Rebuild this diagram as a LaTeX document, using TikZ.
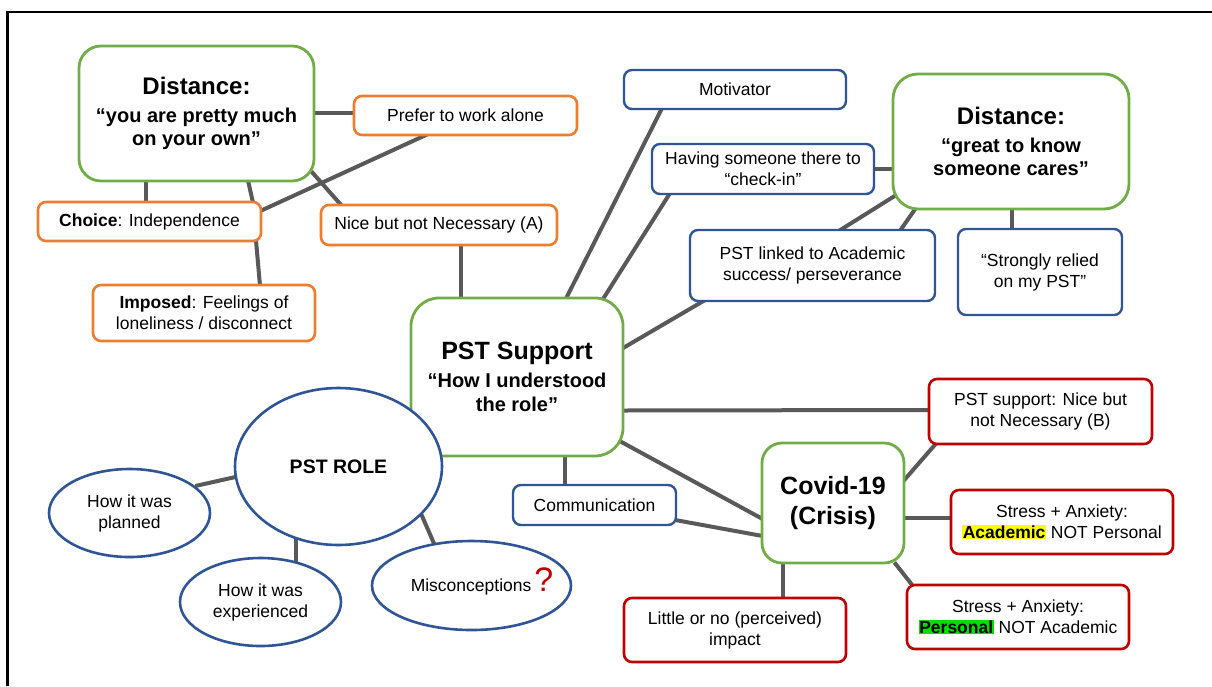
\documentclass[tikz,border=0pt]{standalone}
\usepackage{fontspec}
\setmainfont{Liberation Sans}
\usetikzlibrary{shapes.geometric,calc,backgrounds}

\definecolor{grn}{HTML}{70AD47}
\definecolor{org}{HTML}{ED7D31}
\definecolor{blu}{HTML}{2F5597}
\definecolor{rd}{HTML}{C00000}
\definecolor{lnk}{HTML}{595959}
\definecolor{hly}{HTML}{FFFF00}
\definecolor{hlg}{HTML}{00E000}

\newcommand\markY[1]{{\setlength{\fboxsep}{0.6pt}\colorbox{hly}{#1}}}
\newcommand\markG[1]{{\setlength{\fboxsep}{0.6pt}\colorbox{hlg}{#1}}}

\tikzset{
  box/.style={draw, fill=white, rounded corners=8pt, line width=2.6pt,
    inner sep=0pt, align=center, font=\fontsize{17.5}{21}\selectfont},
  obox/.style={box, draw=org},
  bbox/.style={box, draw=blu, line width=2.4pt},
  rbox/.style={box, draw=rd},
  gbox/.style={box, draw=grn, line width=2.8pt, rounded corners=22pt,
    font=\fontsize{20}{23}\selectfont\bfseries},
  ell/.style={ellipse, draw=blu, line width=2.6pt, fill=white, inner sep=0pt,
    align=center, font=\fontsize{17.5}{21}\selectfont},
  link/.style={draw=lnk, line width=4pt},
  plain/.style={inner sep=0pt, align=center, font=\fontsize{17.5}{21}\selectfont},
}

\begin{document}
\begin{tikzpicture}[x=1pt,y=-1pt]
\useasboundingbox (0,0) rectangle (1212,686);

% frame: top and left rules
\draw[line width=2.2pt] (7.5,686) -- (7.5,12) -- (1212,12);

% ---- top-left cluster
\node[gbox, minimum width=235, minimum height=135] (distA) at (196.5,113.5)
  {{\fontsize{24}{28}\selectfont Distance:}\\[5pt]“you are pretty much\\on your own”};
\node[obox, minimum width=223, minimum height=39] (prefer) at (465.5,115.5) {Prefer to work alone};
\node[obox, minimum width=223, minimum height=39] (choice) at (149.5,221.5) {\textbf{Choice}: Independence};
\node[obox, minimum width=236, minimum height=40] (nice) at (439,225) {Nice but not Necessary (A)};
\node[obox, minimum width=222, minimum height=56] (imposed) at (204,313) {\textbf{Imposed}: Feelings of\\loneliness / disconnect};

% ---- centre
\node[gbox, minimum width=212, minimum height=158, rounded corners=28pt,
  font=\fontsize{20}{24}\selectfont\bfseries] (pst) at (517,377)
  {{\fontsize{25}{28}\selectfont PST Support}\\[4pt]“How I understood\\the role”};

% ---- top-right cluster
\node[bbox, minimum width=222, minimum height=39] (motiv) at (735,89.5) {Motivator};
\node[bbox, minimum width=222, minimum height=50] (having) at (763,169) {Having someone there to\\“check-in”};
\node[gbox, minimum width=236, minimum height=135, rounded corners=25pt] (distB) at (1011,141.5)
  {{\fontsize{24}{28}\selectfont Distance:}\\[5pt]“great to know\\someone cares”};
\node[bbox, minimum width=245, minimum height=71] (linked) at (812.5,265.5) {PST linked to Academic\\success/ perseverance};
\node[bbox, minimum width=164, minimum height=86] (strongly) at (1040,272) {“Strongly relied\\on my PST”};

% ---- role ellipses
\node[ell, minimum width=207, minimum height=157, font=\fontsize{19.5}{23}\selectfont\bfseries] (role) at (338.5,466.5) {PST ROLE};
\node[ell, minimum width=161, minimum height=88] (planned) at (129.5,513) {How it was\\planned};
\node[ell, minimum width=161, minimum height=88] (experienced) at (260.5,602) {How it was\\experienced};
\node[ell, minimum width=199, minimum height=89] (miscon) at (471.5,585.5) {};
\node[plain, anchor=base] (misconText) at (482,591)
  {Misconceptions\,{\color{rd}\fontsize{34}{34}\selectfont ?}};

% ---- bottom-right cluster
\node[bbox, minimum width=163, minimum height=40] (comm) at (594.5,505) {Communication};
\node[rbox, minimum width=223, minimum height=65] (supB) at (1040.5,411.5) {PST support: Nice but\\not Necessary (B)};
\node[gbox, minimum width=142, minimum height=120, rounded corners=20pt,
  font=\fontsize{25}{30}\selectfont\bfseries] (covid) at (833,503) {Covid-19\\(Crisis)};
\node[rbox, minimum width=222, minimum height=64] (stressA) at (1062,522)
  {Stress + Anxiety:\\\markY{\textbf{Academic}} NOT Personal};
\node[rbox, minimum width=222, minimum height=64] (stressP) at (1018,617)
  {Stress + Anxiety:\\\markG{\textbf{Personal}} NOT Academic};
\node[rbox, minimum width=222, minimum height=64] (little) at (735,630) {Little or no (perceived)\\impact};

% ---- connectors, behind the boxes
\begin{scope}[on background layer]
  \draw[link] ($(distA.east)+(-2,-0.5)$) -- ($(prefer.west)+(2,-2.5)$);
  \draw[link] ($(choice.east)+(-2,-10.5)$) -- ($(prefer.south)+(-38,-2)$);
  \draw[link] ($(distA.south)+(-50.5,-2)$) -- ($(choice.north)+(-3.5,2)$);
  \draw[link] ($(distA.south)+(51.5,-2)$) -- ($(choice.north)+(103.5,2)$);
  \draw[link] ($(choice.south)+(106.5,-2)$) -- ($(imposed.north)+(56,2)$);
  \draw[link] ($(distA.south east)+(-4,-11)$) -- ($(nice.north west)+(22,2)$);
  \draw[link] ($(nice.south)+(22,-2)$) -- ($(pst.north)+(-56,2)$);
  \draw[link] ($(motiv.south)+(-73,-2)$) -- ($(pst.north)+(49,2)$);
  \draw[link] ($(having.south)+(-93,-2)$) -- ($(pst.north)+(85,4)$);
  \draw[link] ($(linked.south west)+(16,-2)$) -- ($(pst.east)+(-3,-28)$);
  \draw[link] ($(having.east)+(-2,0)$) -- ($(distB.west)+(2,27.5)$);
  \draw[link] ($(distB.south west)+(4,-15)$) -- ($(linked.north)+(26.5,2)$);
  \draw[link] ($(distB.south west)+(24,-2)$) -- ($(linked.north)+(87.5,2)$);
  \draw[link] ($(distB.south)+(1,-2)$) -- ($(strongly.north)+(-28,2)$);
  \draw[link] ($(pst.east)+(-2,33.5)$) -- ($(supB.west)+(2,-1.5)$);
  \draw[link] ($(pst.south east)+(-4,-16)$) -- ($(covid.west)+(2,16)$);
  \draw[link] ($(comm.east)+(-2,15)$) -- ($(covid.west)+(2,33)$);
  \draw[link] ($(pst.south)+(48,-2)$) -- ($(comm.north)+(-29.5,2)$);
  \draw[link] ($(covid.east)+(-2,-22)$) -- ($(supB.south west)+(8.5,-2)$);
  \draw[link] ($(covid.east)+(-2,15)$) -- ($(stressA.west)+(2,-4)$);
  \draw[link] ($(covid.south east)+(-11,-2)$) -- ($(stressP.north west)+(7,2)$);
  \draw[link] ($(covid.south)+(-50,-2)$) -- ($(little.north)+(48,2)$);
  \draw[link] ($(role.west)+(4,10)$) -- ($(planned.east)+(-16,-27)$);
  \draw[link] ($(role.south)+(-42.5,-8)$) -- ($(experienced.north)+(35.5,6)$);
  \draw[link] ($(role.center)+(82,46)$) -- ($(miscon.north)+(-36.5,6)$);
\end{scope}
\end{tikzpicture}
\end{document}
